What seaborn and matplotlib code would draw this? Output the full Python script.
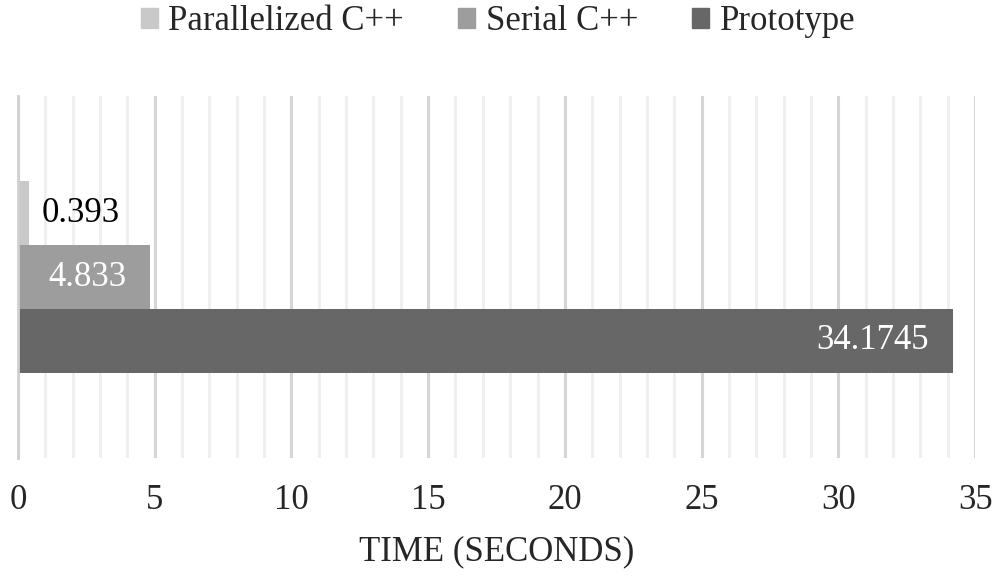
import numpy as np
import pandas as pd
import matplotlib
matplotlib.use('Agg')
import matplotlib.pyplot as plt
import seaborn as sns
from matplotlib.ticker import MultipleLocator

# data
series = ['Parallelized C++', 'Serial C++', 'Prototype']
times = [0.393, 4.833, 34.1745]
labels = ['0.393', '4.833', '34.1745']
colors = ['#c9c9c9', '#9d9d9d', '#676767']
label_colors = ['black', 'white', 'white']

df = pd.DataFrame({'series': series, 'time': times, 'group': ['run'] * len(series)})

sns.set_style('white')
plt.rcParams['font.family'] = ['Liberation Serif', 'DejaVu Serif']
FS = 25

fig = plt.figure(figsize=(9.96, 5.79), dpi=100)
ax = fig.add_axes([0.018, 0.209, 0.961, 0.625])

sns.barplot(data=df, x='time', y='group', hue='series', hue_order=series,
            palette=colors, orient='h', width=0.53, gap=0, ax=ax,
            legend=False, linewidth=0, saturation=1)

ax.set_xlim(0, 35)
ax.set_ylim(0.5, -0.5)
ax.xaxis.set_major_locator(MultipleLocator(5))
ax.xaxis.set_minor_locator(MultipleLocator(1))
ax.grid(axis='x', which='major', color='#d6d6d6', linewidth=2.2, zorder=0)
ax.grid(axis='x', which='minor', color='#efefef', linewidth=2.0, zorder=0)
ax.set_axisbelow(True)

for s in ['top', 'right', 'bottom']:
    ax.spines[s].set_visible(False)
ax.spines['left'].set_color('#d0d0d0')
ax.spines['left'].set_linewidth(2)

ax.set_yticks([-0.5, 0.5])
ax.set_yticklabels([])
ax.tick_params(axis='y', length=9, width=2, color='#d0d0d0')
ax.tick_params(axis='x', which='both', length=0, pad=19, labelsize=FS)
ax.set_ylabel('')
ax.set_xlabel('TIME (SECONDS)', fontsize=FS, labelpad=13)

# value labels
for bar, txt, c in zip(ax.patches, labels, label_colors):
    w = bar.get_width()
    yc = bar.get_y() + bar.get_height() / 2
    if c == 'black':
        ax.annotate(txt, (w, yc), xytext=(13, 0), textcoords='offset pixels',
                    ha='left', va='center', fontsize=FS, color=c)
    else:
        ax.annotate(txt, (w, yc), xytext=(-24, 0), textcoords='offset pixels',
                    ha='right', va='center', fontsize=FS, color=c)

handles = [plt.Rectangle((0, 0), 1, 1, color=c) for c in colors]
fig.legend(handles, series, loc='upper center', bbox_to_anchor=(0.5, 1.045),
           ncol=3, frameon=False, fontsize=FS, handlelength=0.5,
           handleheight=0.5, handletextpad=0.3, columnspacing=1.55)

fig.savefig('out.png', dpi=100)
